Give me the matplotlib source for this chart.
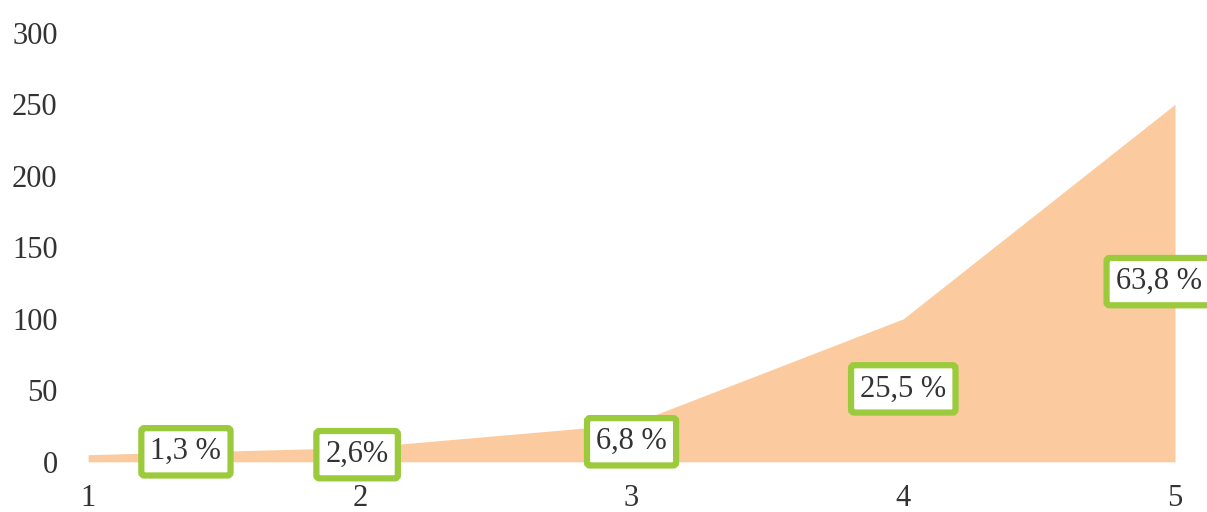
import matplotlib.pyplot as plt

# данные
x_vals = [1, 2, 3, 4, 5]
y_vals = [5, 10, 26.5, 100, 250]
pct_labels = ["1,3 %", "2,6%", "6,8 %", "25,5 %", "63,8 %"]
y_ticks = [0, 50, 100, 150, 200, 250, 300]

# положения подписей (в координатах данных)
label_pos = [(1.36, 7), (1.99, 5), (3.0, 14), (4.0, 51), (4.94, 126)]

plt.rcParams["font.family"] = ["Liberation Serif", "DejaVu Serif"]

fig = plt.figure(figsize=(12.07, 5.12), dpi=100)
ax = fig.add_axes([0.073, 0.098, 0.9005, 0.838])

ax.fill_between(x_vals, 0, y_vals, color="#FBCB9F", linewidth=0)

for (lx, ly), txt in zip(label_pos, pct_labels):
    ax.text(lx, ly, txt, ha="center", va="center", fontsize=22, color="#333333",
            bbox=dict(boxstyle="round,pad=0.3,rounding_size=0.1", facecolor="white",
                      edgecolor="#9BCB3C", linewidth=4.5), zorder=5)

ax.set_xlim(1, 5)
ax.set_ylim(0, 300)
ax.set_xticks(x_vals)
ax.set_yticks(y_ticks)
ax.tick_params(axis="both", length=0, labelsize=22, colors="#333333")
ax.tick_params(axis="x", pad=16)
ax.tick_params(axis="y", pad=22)
for s in ax.spines.values():
    s.set_visible(False)

fig.savefig("out.png", dpi=100)
